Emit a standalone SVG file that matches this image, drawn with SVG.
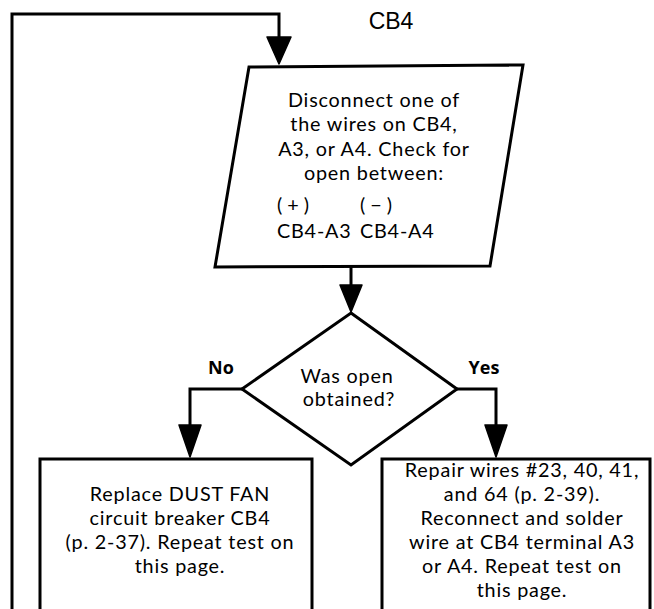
<svg xmlns="http://www.w3.org/2000/svg" width="654" height="609" viewBox="0 0 654 609">
<defs>
<style>
.ln{fill:none;stroke:#000;stroke-width:3;stroke-linejoin:miter}
.sh{fill:#fff;stroke:#000;stroke-width:3}
.ah{fill:#000;stroke:#000;stroke-width:1.5;stroke-linejoin:round}
.t{font-family:Lato,"Open Sans","Liberation Sans",sans-serif;font-size:19.8px;letter-spacing:0.8px;fill:#000;text-anchor:middle}
.s{text-anchor:start}
.b{font-family:"Open Sans","Liberation Sans",sans-serif;font-size:18px;font-weight:bold;fill:#000;text-anchor:middle}
.h{font-family:"Liberation Sans",Arial,sans-serif;font-size:23px;fill:#000;text-anchor:middle}
</style>
</defs>
<rect width="654" height="609" fill="#fff"/>
<text class="h" x="391" y="29">CB4</text>
<g id="connectors">
<path class="ln" d="M12,609 V14 H279 V38"/>
<path class="ah" d="M267,37 L291,37 L279,64 Z"/>
<path class="ln" d="M351,266 V287"/>
<path class="ah" d="M340,285 L362,285 L351,312 Z"/>
<path class="ln" d="M242,389 H190 V427"/>
<path class="ah" d="M179,425 L201,425 L190,457 Z"/>
<path class="ln" d="M457,389 H496 V427"/>
<path class="ah" d="M485,425 L507,425 L496,457 Z"/>
</g>
<g id="n1">
<polygon class="sh" points="249,67 523,65 490,266 215,267"/>
<text class="t"><tspan x="374" y="107">Disconnect one of</tspan><tspan x="374" y="131">the wires on CB4,</tspan><tspan x="374" y="156">A3, or A4. Check for</tspan><tspan x="374" y="180">open between:</tspan></text>
<text class="t s" style="letter-spacing:5px"><tspan x="277" y="212">(+)</tspan><tspan x="360" y="212">(−)</tspan></text>
<text class="t s"><tspan x="277" y="238">CB4-A3</tspan><tspan x="360" y="238">CB4-A4</tspan></text>
</g>
<g id="n2">
<polygon class="sh" points="351,313 457,389 351,465 242,389"/>
<text class="t"><tspan x="347" y="383">Was open</tspan><tspan x="349" y="406">obtained?</tspan></text>
</g>
<text class="b" x="221" y="374">No</text>
<text class="b" x="484" y="374">Yes</text>
<g id="n3">
<rect class="sh" x="40" y="459" width="272" height="170"/>
<text class="t"><tspan x="180" y="501">Replace DUST FAN</tspan><tspan x="180" y="525">circuit breaker CB4</tspan><tspan x="180" y="549">(p. 2-37). Repeat test on</tspan><tspan x="180" y="573">this page.</tspan></text>
</g>
<g id="n4">
<rect class="sh" x="382" y="459" width="268" height="170"/>
<text class="t"><tspan x="522" y="477">Repair wires #23, 40, 41,</tspan><tspan x="522" y="501">and 64 (p. 2-39).</tspan><tspan x="522" y="525">Reconnect and solder</tspan><tspan x="522" y="549">wire at CB4 terminal A3</tspan><tspan x="522" y="573">or A4. Repeat test on</tspan><tspan x="522" y="597">this page.</tspan></text>
</g>
</svg>
